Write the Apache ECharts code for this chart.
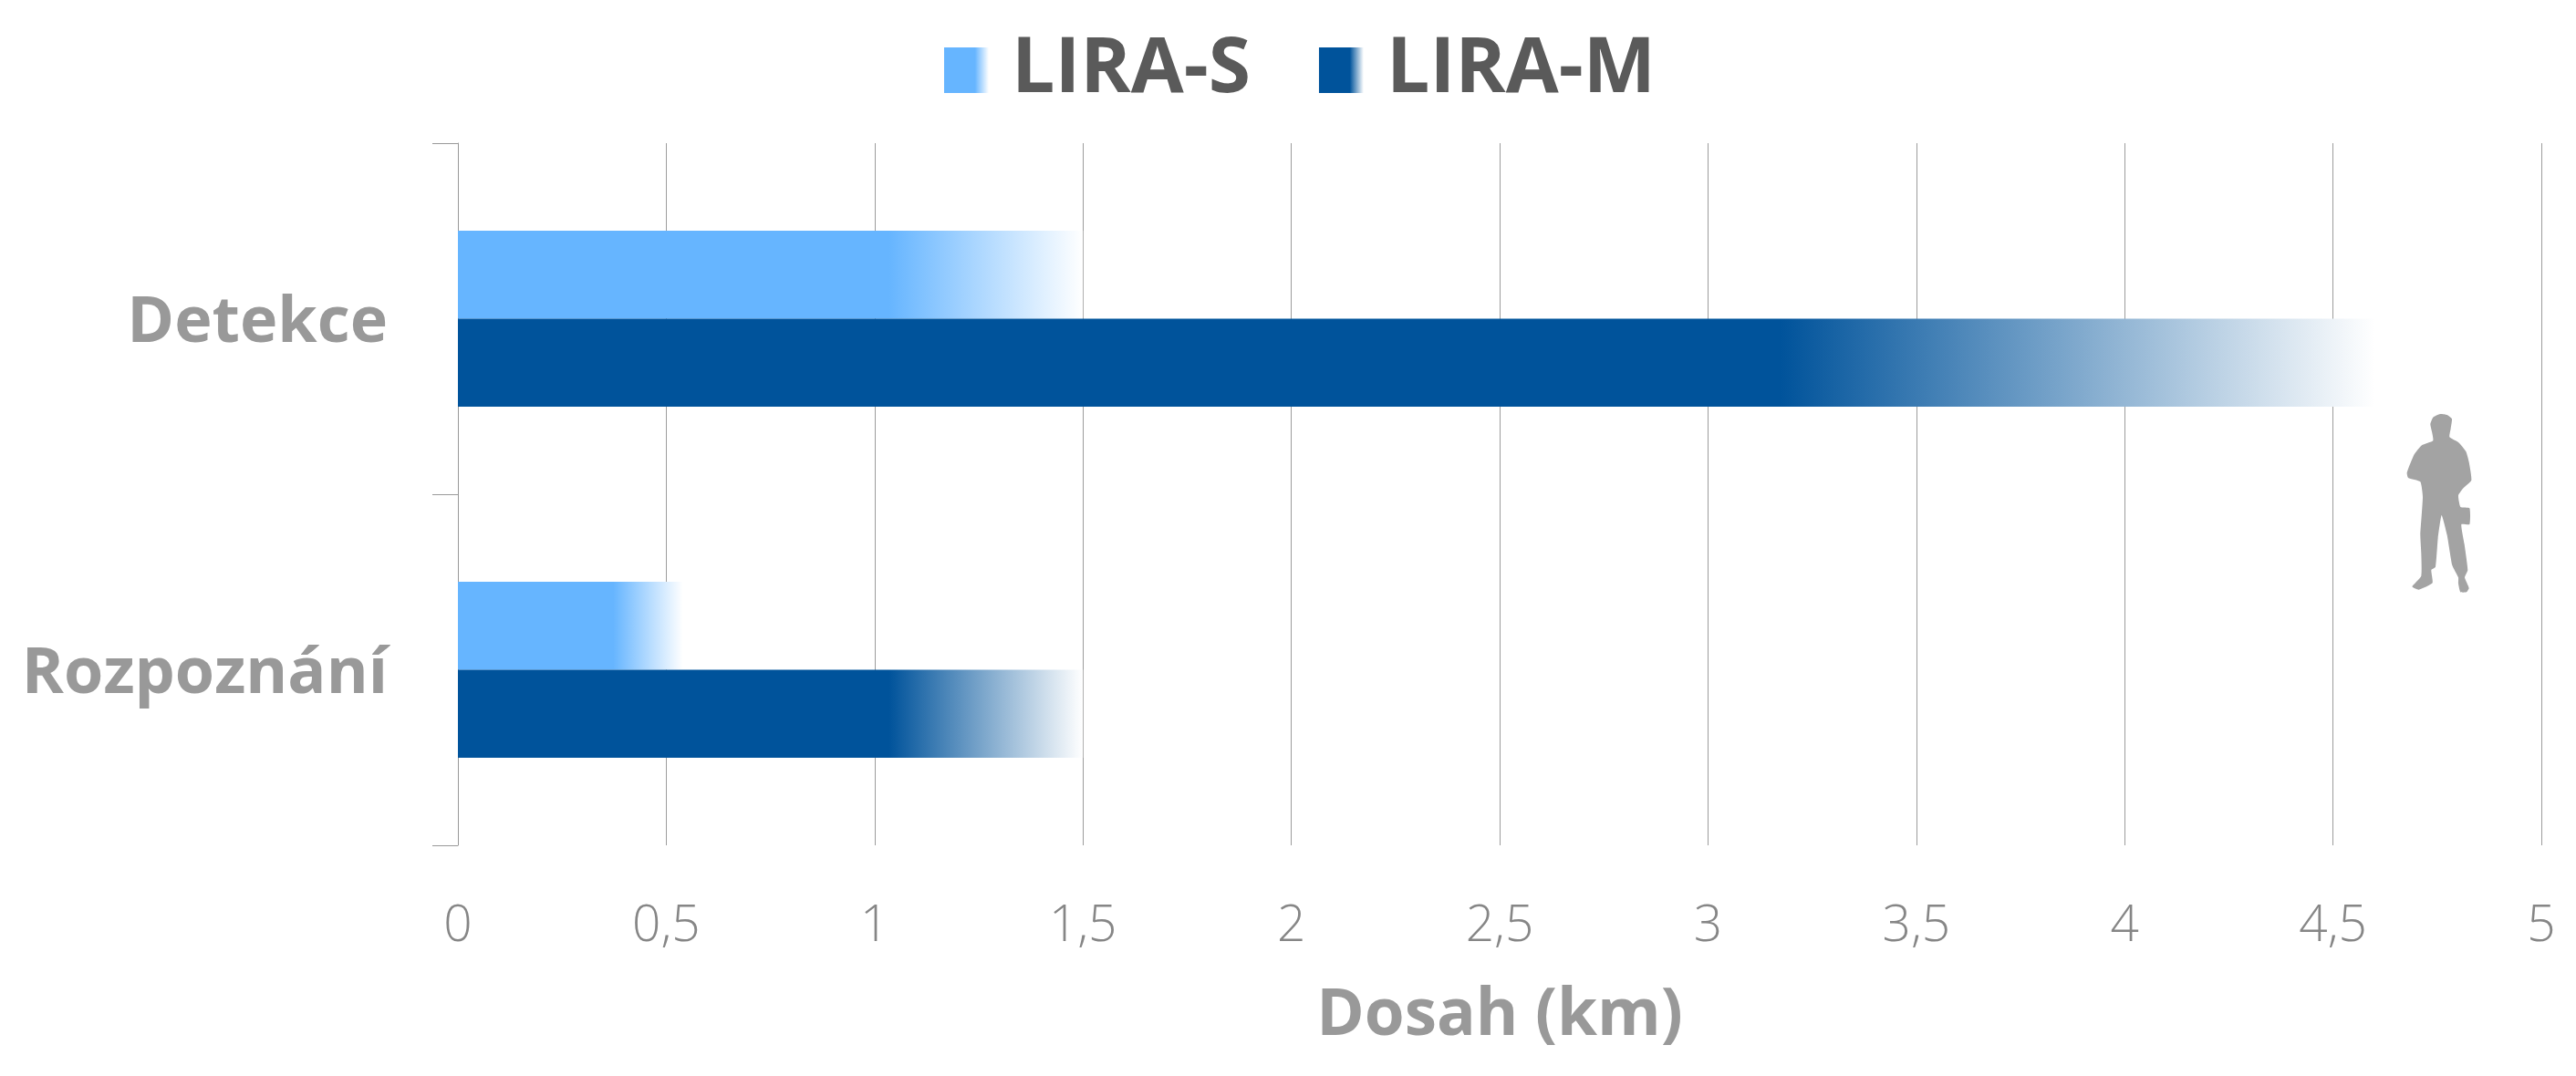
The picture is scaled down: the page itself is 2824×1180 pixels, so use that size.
<!DOCTYPE html>
<html><head><meta charset="utf-8">
<style>html,body{margin:0;padding:0;background:#fff}#c{width:2824px;height:1180px}</style>
<script src="https://cdn.jsdelivr.net/npm/echarts@6/dist/echarts.min.js"></script>
</head><body><div id="c"></div>
<script>
const categories = ['Detekce', 'Rozpoznání'];
const liraS = [1.5, 0.54];
const liraM = [4.6, 1.5];
const seriesNames = ['LIRA-S', 'LIRA-M'];
const axisTitle = 'Dosah (km)';
const FONT = '"Open Sans", sans-serif';
const fade = c => ({type:'linear',x:0,y:0,x2:1,y2:0,colorStops:[
  {offset:0,color:c},{offset:0.69,color:c},{offset:1,color:'rgba(255,255,255,1)'}]});
const person = [[322,190],[318,160],[313,135],[322,113],[345,102],[368,105],[384,118],[380,150],[376,178],[405,195],[430,225],[440,260],[448,320],[422,345],[405,370],[412,408],[442,412],[442,465],[415,465],[425,530],[436,615],[426,640],[440,675],[432,688],[412,688],[405,660],[405,640],[385,600],[368,500],[350,435],[338,510],[330,605],[316,615],[320,658],[275,680],[253,670],[283,635],[283,560],[280,500],[288,375],[280,325],[240,312],[236,295],[260,235],[285,205]];
const chart = echarts.init(document.getElementById('c'));
chart.setOption({
  animation:false, backgroundColor:'#fff',
  legend:{show:true,top:30,left:1030,itemWidth:49,itemHeight:50,itemGap:75,icon:'rect',
    data:seriesNames,
    textStyle:{fontFamily:FONT,fontWeight:700,fontSize:84,color:'#5a5a5a',padding:[0,0,0,20]}},
  grid:{left:502,right:38,top:157,bottom:253},
  xAxis:{type:'value',min:0,max:5,interval:0.5,
    name:axisTitle,nameLocation:'middle',nameGap:152,
    nameTextStyle:{fontFamily:FONT,fontWeight:700,fontSize:71,color:'#999'},
    axisLine:{show:false},axisTick:{show:false},
    splitLine:{show:true,lineStyle:{color:'#9c9c9c',width:1}},
    axisLabel:{margin:62,fontFamily:FONT,fontWeight:300,fontSize:55,color:'#868686',
      hideOverlap:false,showMinLabel:true,showMaxLabel:true,
      formatter:v=>String(v).replace('.',',')}},
  yAxis:{type:'category',inverse:true,data:categories,
    axisLine:{show:true,lineStyle:{color:'#999',width:1}},
    axisTick:{show:true,length:28,lineStyle:{color:'#999',width:1}},
    axisLabel:{margin:77,fontFamily:FONT,fontWeight:700,fontSize:70,color:'#999',verticalAlign:'top',lineHeight:12}},
  series:[
    {name:seriesNames[0],type:'bar',data:liraS,barWidth:96.5,barGap:0,itemStyle:{color:fade('#66b5ff')}},
    {name:seriesNames[1],type:'bar',data:liraM,barWidth:96.5,barGap:0,itemStyle:{color:fade('#00539b')}}
  ],
  graphic:[{type:'polygon',silent:true,x:2560,y:420,scaleX:1/3,scaleY:1/3,
    shape:{points:person,smooth:0.15},style:{fill:'#a3a3a3'}}]
});
</script></body></html>
